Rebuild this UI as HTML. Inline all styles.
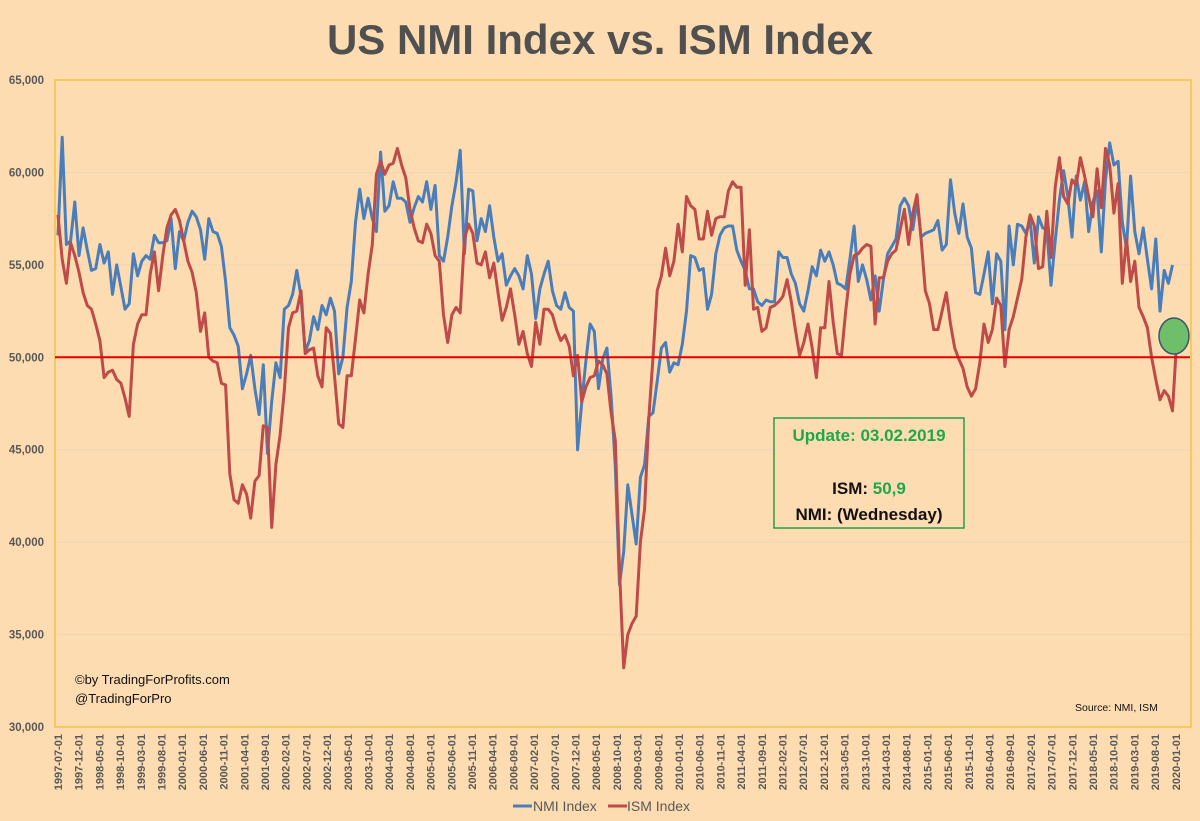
<!DOCTYPE html>
<html><head><meta charset="utf-8"><style>
html,body{margin:0;padding:0;background:#fddcb1;}
svg{display:block;font-family:"Liberation Sans",sans-serif;}
</style></head><body>
<svg id="chart" width="1200" height="821" viewBox="0 0 1200 821">
<rect x="0" y="0" width="1200" height="821" fill="#fddcb1"/>
<text x="600" y="54" text-anchor="middle" font-size="42" font-weight="bold" fill="#505050">US NMI Index vs. ISM Index</text>
<g id="grid"></g>
<g id="yaxis"></g>
<g id="xaxis"></g>
<rect x="55" y="80" width="1136" height="647" fill="none" stroke="#f5c242" stroke-width="1.5"/>
<g id="series"></g>
<line id="ref50" x1="55" x2="1190" stroke="#e00000" stroke-width="2"/>
<ellipse cx="1174" cy="336" rx="15" ry="18" fill="#6fbf6a" stroke="#3a5570" stroke-width="1.5"/>
<g>
<rect x="774" y="418" width="190" height="110" fill="#fddcb1" stroke="#22a04a" stroke-width="1.5"/>
<text x="869" y="441" text-anchor="middle" font-size="17" font-weight="bold" fill="#1fa84a">Update: 03.02.2019</text>
<text x="869" y="494" text-anchor="middle" font-size="17" font-weight="bold" fill="#111">ISM: <tspan fill="#1fa84a">50,9</tspan></text>
<text x="869" y="520" text-anchor="middle" font-size="17" font-weight="bold" fill="#111">NMI: (Wednesday)</text>
</g>
<text x="75" y="684" font-size="13" fill="#111">©by TradingForProfits.com</text>
<text x="75" y="703" font-size="13" fill="#111">@TradingForPro</text>
<text x="1075" y="711" font-size="10.5" fill="#111">Source: NMI, ISM</text>
<g>
<line x1="513" x2="532" y1="806" y2="806" stroke="#4a7ebb" stroke-width="3"/>
<text x="533" y="811" font-size="14" fill="#595959">NMI Index</text>
<line x1="608" x2="627" y1="806" y2="806" stroke="#be4b48" stroke-width="3"/>
<text x="627" y="811" font-size="14" fill="#595959">ISM Index</text>
</g>
</svg>
<script>
const yTicks = [30000,35000,40000,45000,50000,55000,60000,65000];
const yTickLabels = ["30,000","35,000","40,000","45,000","50,000","55,000","60,000","65,000"];
const xStartYear = 1997;
const xStartMonth = 7;
const xLabelStep = 5;
const xLabelCount = 55;
const refValue = 50000;
const nmiValues = [56.6,61.9,56.1,56.3,58.4,55.5,57.0,55.8,54.7,54.8,56.1,55.1,55.7,53.4,55.0,53.8,52.6,52.9,55.6,54.4,55.2,55.5,55.3,56.6,56.2,56.2,56.3,57.5,54.8,56.8,56.3,57.3,57.9,57.6,56.9,55.3,57.5,56.8,56.7,56.0,54.1,51.6,51.2,50.6,48.3,49.1,50.1,48.3,46.9,49.6,44.8,47.6,49.7,48.9,52.6,52.8,53.4,54.7,53.3,50.3,50.9,52.2,51.5,52.8,52.3,53.2,52.5,49.1,50.0,52.7,54.1,57.3,59.1,57.5,58.6,57.5,56.8,61.1,57.9,58.2,59.5,58.6,58.6,58.4,57.3,58.1,58.7,58.4,59.5,58.0,59.3,55.5,55.2,56.5,58.2,59.5,61.2,55.6,59.1,59.0,56.3,57.5,56.8,58.2,56.5,55.2,55.6,53.9,54.4,54.8,54.4,53.7,55.5,54.5,52.1,53.7,54.5,55.2,53.6,52.8,52.6,53.5,52.7,52.5,45.0,47.6,49.8,51.8,51.4,48.3,49.9,50.5,47.9,44.1,37.7,39.5,43.1,41.5,39.9,43.5,44.2,46.8,47.0,48.7,50.5,50.8,49.2,49.7,49.6,50.7,52.5,55.5,55.4,54.7,54.8,52.6,53.4,55.6,56.6,57.0,57.1,57.1,55.8,55.2,54.7,53.7,53.7,53.0,52.8,53.1,53.0,53.0,55.7,55.4,55.4,54.5,54.0,52.9,52.5,53.6,54.9,54.4,55.8,55.2,55.7,55.0,54.0,53.9,53.7,55.3,57.1,54.1,55.0,54.2,53.1,54.4,52.5,54.2,55.6,56.0,56.4,58.2,58.6,58.2,56.9,58.5,56.5,56.7,56.8,56.9,57.4,55.8,56.1,59.6,57.8,56.7,58.3,56.5,55.9,53.5,53.4,54.5,55.7,52.9,55.6,55.2,51.5,57.1,55.0,57.2,57.1,56.7,57.4,55.1,57.6,57.0,56.9,53.9,56.3,58.5,60.1,58.7,56.5,59.8,58.5,59.5,56.8,58.4,59.0,55.7,59.6,61.6,60.4,60.6,57.3,55.9,59.8,56.8,55.6,57.0,55.3,53.7,56.4,52.5,54.7,54.0,55.0];
const ismValues = [57.7,55.3,54.0,56.2,55.5,54.6,53.5,52.8,52.6,51.8,50.9,48.9,49.2,49.3,48.8,48.6,47.8,46.8,50.7,51.8,52.3,52.3,54.5,55.7,53.6,55.5,57.0,57.7,58.0,57.4,56.3,55.2,54.6,53.5,51.4,52.4,50.0,49.8,49.7,48.6,48.5,43.7,42.3,42.1,43.1,42.6,41.3,43.3,43.6,46.3,46.2,40.8,44.2,45.8,48.2,51.6,52.4,52.5,53.6,50.2,50.4,50.5,49.0,48.4,51.6,51.3,49.0,46.4,46.2,49.0,49.0,51.0,53.1,52.4,54.5,56.1,59.9,60.6,59.9,60.4,60.5,61.3,60.4,59.7,58.0,57.0,56.3,56.2,57.2,56.7,55.5,55.2,52.3,50.8,52.3,52.7,52.4,56.4,57.2,56.7,55.1,55.0,55.7,54.3,55.1,53.5,52.0,52.7,53.7,52.3,50.7,51.4,50.2,49.5,51.9,50.7,52.6,52.6,52.3,51.5,50.9,51.2,50.6,49.0,50.1,47.6,48.4,48.9,49.0,49.8,49.6,49.1,47.0,45.5,38.5,33.2,35.0,35.6,36.0,40.0,41.8,46.7,50.0,53.6,54.4,55.9,54.4,55.2,57.2,55.7,58.7,58.2,58.0,56.4,56.4,57.9,56.6,57.5,57.6,57.6,59.0,59.5,59.2,59.2,53.9,56.9,52.6,52.7,51.4,51.6,52.7,52.8,53.0,53.3,54.2,53.0,51.5,50.1,50.8,51.8,50.5,48.9,51.6,51.6,54.1,51.9,50.2,50.1,52.5,54.5,55.5,55.6,55.9,56.1,56.0,51.8,54.3,54.3,55.2,55.6,55.8,56.9,58.0,56.1,57.8,58.8,56.4,53.6,52.9,51.5,51.5,52.5,53.5,51.8,50.5,49.9,49.4,48.4,47.9,48.3,49.7,51.8,50.8,51.5,53.2,52.8,49.5,51.5,52.2,53.2,54.2,56.5,57.7,57.1,54.8,54.9,57.9,55.4,59.2,60.8,58.7,58.3,59.6,59.3,60.8,59.8,58.7,57.6,60.2,58.1,61.3,60.4,57.8,59.4,54.0,56.4,54.1,55.2,52.7,52.2,51.6,50.0,48.8,47.7,48.2,47.9,47.1,50.9];

const NS = "http://www.w3.org/2000/svg";
const plotTop = 80, plotBottom = 727;
function yScale(v){ return plotBottom - (v - 30000) / 35000 * (plotBottom - plotTop); }
function xScale(i){ return 58 + i * 4.19; }
function xLabelScale(m){ return 58 + m * 4.14; }

const grid = document.getElementById('grid');
const yaxis = document.getElementById('yaxis');
yTicks.forEach((t, k) => {
  const y = yScale(t);
  if (t !== 30000 && t !== 65000) {
    const ln = document.createElementNS(NS, 'line');
    ln.setAttribute('x1', 55); ln.setAttribute('x2', 1190);
    ln.setAttribute('y1', y); ln.setAttribute('y2', y);
    ln.setAttribute('stroke', '#ebd6bb'); ln.setAttribute('stroke-width', '1');
    
    
    grid.appendChild(ln);
  }
  const tx = document.createElementNS(NS, 'text');
  tx.setAttribute('x', 44); tx.setAttribute('y', y + 4);
  tx.setAttribute('text-anchor', 'end'); tx.setAttribute('font-size', '11.5');
  tx.setAttribute('font-weight', 'bold'); tx.setAttribute('fill', '#595959');
  tx.textContent = yTickLabels[k];
  
  
  yaxis.appendChild(tx);
});
const base = document.createElementNS(NS, 'line');
base.setAttribute('x1', 55); base.setAttribute('x2', 1190);
base.setAttribute('y1', plotBottom); base.setAttribute('y2', plotBottom);
base.setAttribute('stroke', '#d9d0c4'); base.setAttribute('stroke-width', '1');


grid.appendChild(base);

const xaxis = document.getElementById('xaxis');
for (let k = 0; k < xLabelCount; k++) {
  const m = k * xLabelStep;
  const tot = (xStartMonth - 1) + m;
  const yr = xStartYear + Math.floor(tot / 12);
  const mo = (tot % 12) + 1;
  const label = yr + '-' + (mo < 10 ? '0' + mo : mo) + '-01';
  const x = xLabelScale(m);
  const tx = document.createElementNS(NS, 'text');
  tx.setAttribute('transform', 'translate(' + (x + 4) + ',734) rotate(-90)');
  tx.setAttribute('text-anchor', 'end'); tx.setAttribute('font-size', '11');
  tx.setAttribute('font-weight', 'bold'); tx.setAttribute('fill', '#595959');
  tx.textContent = label;
  
  
  xaxis.appendChild(tx);
}

const series = document.getElementById('series');
function drawLine(vals, color, name){
  const pts = vals.map((v, i) => xScale(i).toFixed(1) + ',' + yScale(v * 1000).toFixed(1)).join(' ');
  const pl = document.createElementNS(NS, 'polyline');
  pl.setAttribute('points', pts);
  pl.setAttribute('fill', 'none'); pl.setAttribute('stroke', color);
  pl.setAttribute('stroke-width', '3'); pl.setAttribute('stroke-linejoin', 'round');
  
  
  series.appendChild(pl);
}
drawLine(nmiValues, '#4a7ebb', 'nmi-index-line');
drawLine(ismValues, '#be4b48', 'ism-index-line');

const ref = document.getElementById('ref50');
ref.setAttribute('y1', yScale(refValue));
ref.setAttribute('y2', yScale(refValue));
</script>
</body></html>
